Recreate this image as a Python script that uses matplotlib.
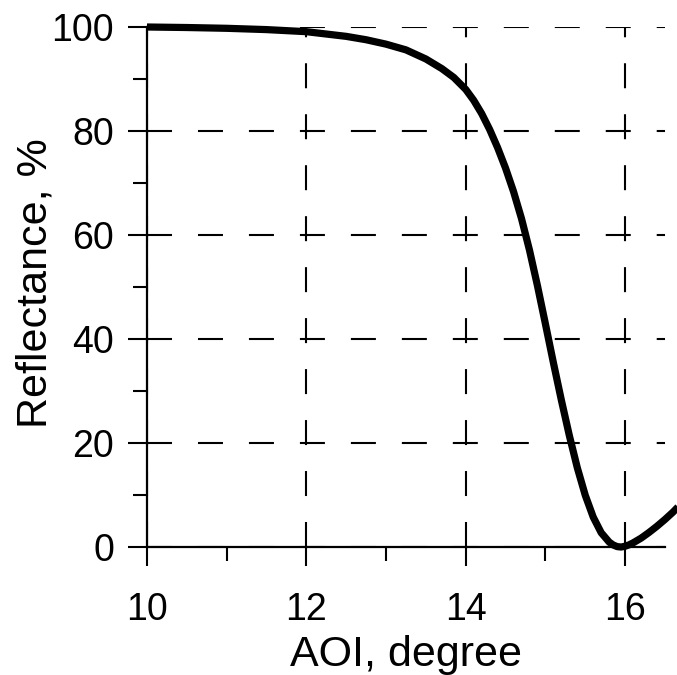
import matplotlib
matplotlib.use("Agg")
import matplotlib.pyplot as plt
from matplotlib.ticker import MultipleLocator

# Angle of incidence (degree) and measured reflectance (%)
aoi = [10.0, 10.5, 11.0, 11.5, 12.0, 12.5, 12.75, 13.0, 13.25, 13.5, 13.7,
       13.85, 14.0, 14.1, 14.2, 14.3, 14.4, 14.5, 14.6, 14.7, 14.8, 14.9,
       15.0, 15.1, 15.2, 15.3, 15.4, 15.5, 15.6, 15.7, 15.8, 15.85, 15.9,
       15.95, 16.0, 16.05, 16.1, 16.2, 16.3, 16.4, 16.5, 16.6, 16.67]
reflectance = [100.0, 99.9, 99.75, 99.5, 99.1, 98.2, 97.55, 96.7, 95.6, 93.85, 92.0,
               90.3, 88.0, 85.9, 83.35, 80.3, 76.8, 72.85, 68.35, 63.15, 57.1, 50.25,
               42.9, 35.45, 28.25, 21.45, 15.25, 9.95, 5.75, 2.75, 0.95, 0.4, 0.08,
               0.0, 0.15, 0.42, 0.8, 1.7, 2.8, 4.0, 5.3, 6.7, 7.8]

x_ticks = [10, 12, 14, 16]
y_ticks = [0, 20, 40, 60, 80, 100]

plt.rcParams["font.family"] = ["Liberation Sans", "DejaVu Sans"]
plt.rcParams["lines.scale_dashes"] = False

fig = plt.figure(figsize=(6.77, 6.75), dpi=100)
ax = fig.add_axes([0.2171, 0.1896, 0.7651, 0.7704])

ax.set_xlim(10, 16.5)
ax.set_ylim(0, 100)

ax.plot(aoi, reflectance, color="black", lw=5.2, clip_on=False, zorder=5,
        solid_capstyle="butt", solid_joinstyle="round")

ax.set_xticks(x_ticks)
ax.set_yticks(y_ticks)
ax.xaxis.set_minor_locator(MultipleLocator(1))
ax.yaxis.set_minor_locator(MultipleLocator(10))

ax.grid(True, which="major", color="black", lw=1.5,
        linestyle=(0, (18.0, 18.7)))

for side in ("top", "right"):
    ax.spines[side].set_visible(False)
for side in ("left", "bottom"):
    ax.spines[side].set_linewidth(1.6)

ax.tick_params(which="major", direction="out", length=13.7, width=1.5,
               labelsize=27, colors="black")
ax.tick_params(which="minor", direction="out", length=10, width=1.5)
ax.tick_params(axis="x", which="major", pad=19)
ax.tick_params(axis="y", which="major", pad=10)

ax.set_xlabel("AOI, degree", fontsize=31)
ax.set_ylabel("Reflectance, %", fontsize=31)
ax.xaxis.set_label_coords(0.5, -0.208)
ax.xaxis.label.set_va("center")
ax.yaxis.set_label_coords(-0.216, 0.508)
ax.yaxis.label.set_va("center")

fig.savefig("out.png", dpi=100)
